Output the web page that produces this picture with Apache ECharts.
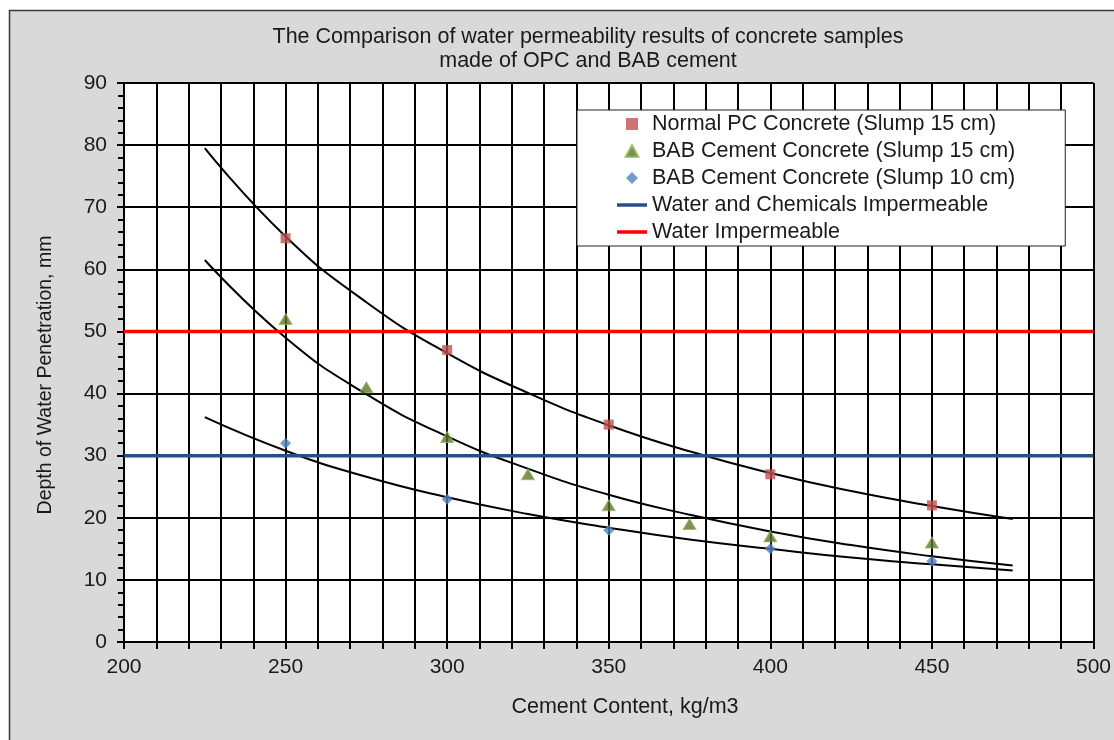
<!DOCTYPE html>
<html>
<head>
<meta charset="utf-8">
<script src="https://cdn.jsdelivr.net/npm/echarts@6/dist/echarts.min.js"></script>
<style>html,body{margin:0;padding:0;background:#fff}#c{width:1114px;height:740px}</style>
</head>
<body>
<div id="c"></div>
<script>
// ---- data ----
const titleLines = ['The Comparison of water permeability results of concrete samples', 'made of OPC and BAB cement'];
const xAxisTitle = 'Cement Content, kg/m3';
const yAxisTitle = 'Depth of Water Penetration, mm';

const normalPCx = [250, 300, 350, 400, 450];
const normalPCy = [65, 47, 35, 27, 22];

const bab15x = [250, 275, 300, 325, 350, 375, 400, 450];
const bab15y = [52, 41, 33, 27, 22, 19, 17, 16];

const bab10x = [250, 300, 350, 400, 450];
const bab10y = [32, 23, 18, 15, 13];

// trend curves
const trendX = [225, 250, 275, 300, 325, 350, 375, 400, 425, 450, 475];
const trendNormalPC = [79.5, 65.3, 54.7, 46.5, 40.1, 34.9, 30.7, 27.2, 24.3, 21.9, 19.8];
const trendBab15 = [61.5, 49.0, 39.9, 33.1, 27.9, 23.7, 20.5, 17.8, 15.6, 13.8, 12.3];
const trendBab10 = [36.2, 30.8, 26.6, 23.3, 20.6, 18.4, 16.5, 15.0, 13.6, 12.5, 11.5];

const limitX = [200, 500];
const chemLimit = 30;
const waterLimit = 50;

const names = [
  'Normal PC Concrete (Slump 15 cm)',
  'BAB Cement Concrete (Slump 15 cm)',
  'BAB Cement Concrete (Slump 10 cm)',
  'Water and Chemicals Impermeable',
  'Water Impermeable'
];

const pairs = (xs, ys) => xs.map((x, i) => [x, ys[i]]);

const FONT = '"Liberation Sans", Arial, sans-serif';
const TXT = '#1a1a1a';
const FS = 21.5;

const C_SQ = '#c0504d', C_TRI = '#5a7530', C_DIA = '#4f81bd', C_BLUE = '#264f85', C_RED = '#ff0000';

const chart = echarts.init(document.getElementById('c'), null, {renderer: 'canvas'});

const trend = (data) => ({
  type: 'line', data, smooth: true, symbol: 'none', silent: true,
  lineStyle: {color: '#000', width: 2}, z: 3
});

// legend icons (shape only; keep aspect inside the item box)
const ICON_SQ = 'path://M0,0L10,0L10,10L0,10Z';
const ICON_TRI = 'path://M6,0L12,11L0,11Z';
const ICON_DIA = 'path://M5.5,0L11,5.5L5.5,11L0,5.5Z';
const ICON_LINE = 'path://M0,0L30,0L30,3.5L0,3.5Z';

chart.setOption({
  animation: false,
  backgroundColor: '#fff',
  textStyle: {fontFamily: FONT},
  graphic: [
    {type: 'rect', z: -10, silent: true,
     shape: {x: 9.5, y: 10.5, width: 1200, height: 800},
     style: {fill: '#d9d9d9', stroke: '#3a3a3a', lineWidth: 1.5}},
    {type: 'text', z: 10, style: {text: titleLines[0], x: 588, y: 37, textAlign: 'center', textVerticalAlign: 'middle', font: FS + 'px ' + FONT, fill: TXT}},
    {type: 'text', z: 10, style: {text: titleLines[1], x: 588, y: 61, textAlign: 'center', textVerticalAlign: 'middle', font: FS + 'px ' + FONT, fill: TXT}},
    {type: 'text', z: 10, style: {text: xAxisTitle, x: 625, y: 707, textAlign: 'center', textVerticalAlign: 'middle', font: FS + 'px ' + FONT, fill: TXT}},
    {type: 'text', z: 10, rotation: Math.PI / 2, x: 46, y: 375,
     style: {text: yAxisTitle, x: 0, y: 0, textAlign: 'center', textVerticalAlign: 'middle', font: '19.5px ' + FONT, fill: TXT}}
  ],
  grid: {left: 124, top: 83, right: 19, bottom: 98, show: true, backgroundColor: '#fff', borderWidth: 0},
  legend: {
    data: [
      {name: names[0], icon: ICON_SQ},
      {name: names[1], icon: ICON_TRI},
      {name: names[2], icon: ICON_DIA},
      {name: names[3], icon: ICON_LINE},
      {name: names[4], icon: ICON_LINE}
    ],
    orient: 'vertical',
    left: 577, top: 110,
    padding: [3, 50, 3, 40],
    itemGap: 5,
    itemWidth: 30, itemHeight: 12,
    backgroundColor: '#fff',
    borderColor: '#222', borderWidth: 1,
    textStyle: {fontSize: FS, color: TXT, fontFamily: FONT, lineHeight: 21},
    selectedMode: false
  },
  xAxis: {
    type: 'value', min: 200, max: 500, interval: 50,
    axisLine: {show: true, onZero: false, lineStyle: {color: '#000', width: 2}},
    axisTick: {show: true, inside: false, length: 7, lineStyle: {color: '#000', width: 2}},
    minorTick: {show: true, splitNumber: 5, length: 7, lineStyle: {color: '#000', width: 2}},
    splitLine: {show: true, lineStyle: {color: '#000', width: 2}},
    minorSplitLine: {show: true, lineStyle: {color: '#000', width: 2}},
    axisLabel: {fontSize: 21, color: TXT, margin: 15, fontFamily: FONT}
  },
  yAxis: {
    type: 'value', min: 0, max: 90, interval: 10,
    axisLine: {show: true, onZero: false, lineStyle: {color: '#000', width: 2}},
    axisTick: {show: true, inside: false, length: 7, lineStyle: {color: '#000', width: 2}},
    minorTick: {show: true, splitNumber: 5, length: 6, lineStyle: {color: '#000', width: 2}},
    splitLine: {show: true, lineStyle: {color: '#000', width: 2}},
    axisLabel: {fontSize: 21, color: TXT, margin: 17, fontFamily: FONT}
  },
  series: [
    trend(pairs(trendX, trendNormalPC)),
    trend(pairs(trendX, trendBab15)),
    trend(pairs(trendX, trendBab10)),
    {name: names[3], type: 'line', data: pairs(limitX, [chemLimit, chemLimit]), symbol: 'none',
     lineStyle: {color: C_BLUE, width: 3.5}, itemStyle: {color: C_BLUE}, z: 4},
    {name: names[4], type: 'line', data: pairs(limitX, [waterLimit, waterLimit]), symbol: 'none',
     lineStyle: {color: C_RED, width: 3.5}, itemStyle: {color: C_RED}, z: 4},
    {name: names[0], type: 'scatter', data: pairs(normalPCx, normalPCy), symbol: 'rect', symbolSize: 10,
     itemStyle: {color: C_SQ}, z: 5},
    {name: names[1], type: 'scatter', data: pairs(bab15x, bab15y), symbol: 'triangle', symbolSize: [13, 11],
     itemStyle: {color: C_TRI, borderColor: '#9bbb59', borderWidth: 1}, z: 5},
    {name: names[2], type: 'scatter', data: pairs(bab10x, bab10y), symbol: 'diamond', symbolSize: 11,
     itemStyle: {color: C_DIA}, z: 5}
  ]
});
</script>
</body>
</html>
